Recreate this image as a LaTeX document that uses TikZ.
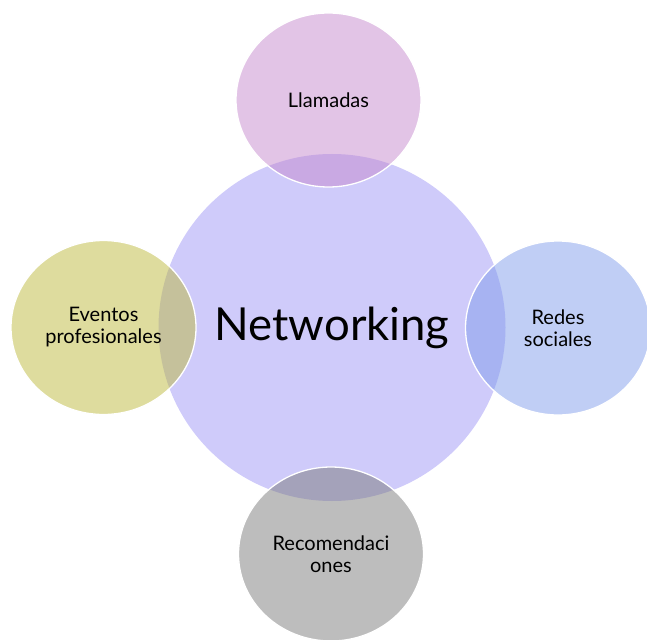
\documentclass[tikz,border=0pt]{standalone}
\usepackage{fontspec}
\setmainfont{Lato}
\usetikzlibrary{shapes.geometric}
\definecolor{centro}{RGB}{207,203,250}
\definecolor{llam}{RGB}{197,137,205}
\definecolor{event}{RGB}{189,185,61}
\definecolor{redes}{RGB}{129,157,235}
\definecolor{recom}{RGB}{123,123,123}

\begin{document}
\begin{tikzpicture}[x = 1pt, y = -1pt,
		hub/.style = {circle, fill = centro, minimum size = 347pt, inner sep = 0pt,
			font = \fontsize{45.5}{48}\selectfont},
		sat/.style = {ellipse, draw = white, line width = 1.3pt, fill opacity = 0.5,
			text opacity = 1, minimum width = 185pt, minimum height = 174pt,
			inner sep = 0pt, align = center, font = \fontsize{20}{22}\selectfont}]
		\useasboundingbox (0, 0) rectangle (647, 639);
		%%%%%%%%%%%%%
		\node [hub] (net) at (332, 327.5) {Networking};
		%%%%%%%%%%%%%
		\node [sat, fill = llam] (llamadas) at (328.5, 100) {Llamadas};
		\node [sat, fill = event] (eventos) at (103.5, 327.5) {Eventos\\profesionales};
		\node [sat, fill = redes] (redes) at (558, 328) {Redes\\sociales};
		\node [sat, fill = recom] (recom) at (331, 554) {Recomendaci\\ones};
\end{tikzpicture}
\end{document}
